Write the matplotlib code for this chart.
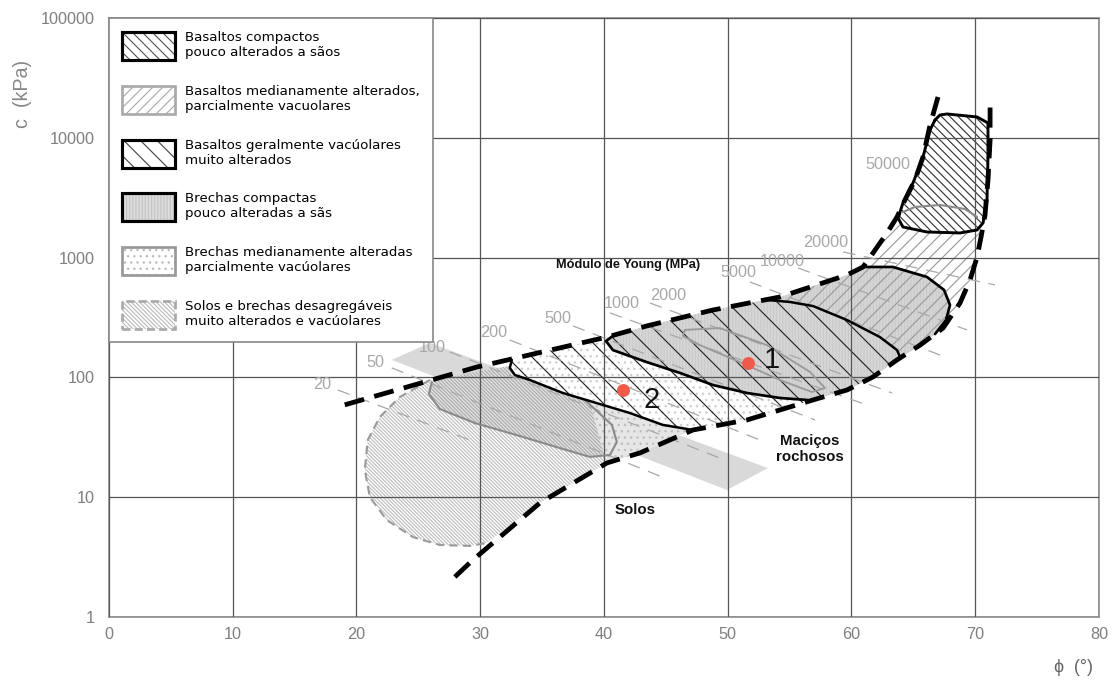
import numpy as np
import matplotlib
matplotlib.use("Agg")
import matplotlib.pyplot as plt
from matplotlib.patches import Polygon, Patch
from matplotlib.legend_handler import HandlerTuple
from matplotlib.ticker import FixedLocator, NullLocator

plt.rcParams['font.family'] = ['Liberation Sans', 'DejaVu Sans']
plt.rcParams['hatch.linewidth'] = 0.55

# eixos: phi (graus) x coesao c (kPa)
xtick_vals = [0, 10, 20, 30, 40, 50, 60, 70, 80]
ytick_vals = [1, 10, 100, 1000, 10000, 100000]
ytick_labels = ['1', '10', '100', '1000', '10000', '100000']

# envoltorias (linhas tracejadas grossas)
upper_phi = [19.05, 29.73, 40.23, 43.47, 48.80, 54.22, 59.64, 60.93, 61.74,
             62.87, 63.68, 64.32, 65.13, 65.78, 66.35, 66.99]
upper_c = [59, 122, 217, 269, 365, 469, 716, 835, 1093,
           1605, 2183, 3026, 4444, 6914, 12790, 21910]
lower_phi = [27.95, 29.40, 34.82, 40.23, 42.90, 47.19, 51.55, 56.89, 59.64,
             61.74, 63.68, 65.54, 67.40, 68.77, 69.58, 70.15, 70.47, 70.79,
             71.03, 71.20, 71.20]
lower_c = [2.16, 2.99, 8.95, 19.3, 23.4, 36.4, 44.1, 64.8, 78.5,
           100.8, 140, 186, 258, 418, 650, 1012, 1486, 2268,
           4444, 9585, 19520]

# faixa cinza de transicao solos / macicos
band_phi = [22.85, 25.93, 53.25, 49.94]
band_c = [140, 194, 17.5, 11.5]

# solos e brechas desagregaveis
soil_phi = [25.93, 23.50, 21.88, 20.91, 20.67, 21.08, 22.45, 24.55, 26.73,
            29.16, 30.53, 34.82, 40.23, 41.69, 39.67, 36.43, 32.39, 29.16]
soil_c = [95.1, 68.6, 46.7, 30.0, 16.9, 10.0, 6.45, 4.65, 3.99,
          3.92, 4.15, 8.95, 19.3, 21.7, 30.0, 44.1, 64.8, 86.4]

# brechas medianamente alteradas
brm_phi = [26.09, 29.16, 32.39, 35.22, 38.46, 40.64, 41.04, 40.48, 38.86,
           36.43, 33.20, 29.56, 26.73, 25.85]
brm_c = [91.5, 109, 124.5, 95.1, 64.8, 40.1, 28.9, 22.5, 21.7,
         25.7, 32.4, 41.6, 54.5, 72.7]
dots_phi = [38.86, 44.76, 47.19, 42.90, 40.23, 39.67]
dots_c = [62.3, 40.1, 36.4, 23.4, 19.3, 30.0]

# basaltos geralmente vacuolares
bgv_phi = [32.55, 34.82, 40.23, 43.47, 48.80, 53.17, 55.03, 56.89, 59.64,
           62.30, 63.68, 63.92, 61.74, 59.64, 56.89, 51.55, 47.19, 44.76,
           42.09, 36.68, 34.01, 32.80, 32.39]
bgv_c = [140, 160, 217, 269, 365, 443, 426, 394, 301,
         217, 169, 148, 100.8, 78.5, 64.8, 44.1, 36.4, 40.1,
         50.4, 74.1, 95.1, 104.7, 120]

# brechas compactas
brc_phi = [40.72, 40.16, 40.72, 43.47, 46.13, 48.80, 51.55, 54.22, 56.40,
           56.89, 59.64, 61.74, 63.68, 65.54, 66.75, 67.64, 67.96, 67.48,
           66.10, 63.34, 60.93, 59.64, 54.22, 48.80, 43.47]
brc_c = [222, 201, 169, 134, 109, 86.4, 74.1, 67.3, 64.8,
         64.8, 78.5, 100.8, 140, 186, 230, 301, 402, 537,
         689, 835, 835, 716, 469, 365, 269]

# basaltos medianamente alterados
bma_phi = [53.17, 54.22, 59.64, 60.93, 61.74, 62.87, 63.68, 64.16, 66.10,
           68.77, 70.23, 70.47, 70.15, 69.58, 68.77, 67.40, 65.54, 63.92,
           63.68, 62.30, 59.64, 56.89, 55.03]
bma_c = [443, 469, 716, 835, 1093, 1605, 2183, 2496, 2696,
         2594, 2312, 1486, 1012, 650, 418, 258, 186, 148,
         169, 217, 301, 394, 426]
oval_phi = [46.54, 49.37, 53.17, 56.65, 57.86, 56.81, 54.22, 50.99, 47.75, 46.37]
oval_c = [249, 258, 186, 111, 81.6, 75.5, 95.1, 134, 186, 222]
arc_phi = [64.16, 65.13, 67.15, 69.17, 70.15]
arc_c = [2402, 2645, 2749, 2545, 2183]

# basaltos compactos (topo)
bc_phi = [66.75, 67.15, 67.72, 70.15, 71.03, 71.03, 70.95, 70.63, 70.15,
          68.77, 66.10, 64.16, 63.76, 64.16, 64.97, 65.78, 66.35]
bc_c = [14080, 15500, 15800, 14920, 13290, 6914, 3026, 1945, 1700,
        1605, 1636, 1800, 2141, 2857, 4195, 6914, 11620]

# modulo de Young (MPa)
mod_labels = ['20', '50', '100', '200', '500', '1000', '2000', '5000',
              '10000', '20000', '50000']
mod_label_phi = [17.19, 21.56, 26.09, 31.10, 36.27, 41.45, 45.16, 50.82,
                 54.38, 57.94, 62.95]
mod_label_c = [86.4, 134, 179, 239, 313, 410, 478, 744, 919, 1324, 5929]
mod_start_phi = [18.49, 22.85, 27.54, 32.39, 37.49, 40.48, 43.71, 51.79, 55.68, 59.32]
mod_start_c = [78.5, 120, 163, 205, 269, 345, 418, 626, 819, 1114]
mod_end_phi = [29.16, 44.52, 49.37, 52.60, 57.05, 61.25, 63.27, 67.56, 69.34, 71.60]
mod_end_c = [30.0, 15.0, 21.2, 30.0, 44.1, 58.8, 74.1, 148, 249, 591]

# pontos ensaiados
pts_name = ['1', '2']
pts_phi = [51.63, 41.53]
pts_c = [132, 78.5]
pts_txt_phi = [53.57, 43.87]
pts_txt_c = [140, 64.8]

legend_labels = ['Basaltos compactos\npouco alterados a sãos',
                 'Basaltos medianamente alterados,\nparcialmente vacuolares',
                 'Basaltos geralmente vacúolares\nmuito alterados',
                 'Brechas compactas\npouco alteradas a sãs',
                 'Brechas medianamente alteradas\nparcialmente vacúolares',
                 'Solos e brechas desagregáveis\nmuito alterados e vacúolares']

fig = plt.figure(figsize=(1112 / 150, 681 / 150), dpi=150)
ax = fig.add_axes([0.098, 0.094, 0.8903, 0.8796])
ax.set_yscale('log')
ax.set_xlim(0, 80)
ax.set_ylim(1, 100000)


def region(phi, c, fc='none', hc='none', hatch=None, z=1.0):
    p = Polygon(np.column_stack([phi, c]), closed=True, facecolor=fc,
                edgecolor=hc, linewidth=0, hatch=hatch, zorder=z)
    ax.add_patch(p)
    return p


def outline(phi, c, color='black', lw=1.2, ls='-', z=3.0):
    ax.plot(phi, c, color=color, lw=lw, ls=ls, zorder=z,
            solid_joinstyle='round', solid_capstyle='round')


# preenchimentos
region(band_phi, band_c, fc='#d9d9d9', z=1.0)
region(soil_phi, soil_c, fc='none', hc='#bdbdbd', hatch='\\' * 14, z=1.1)
region(brm_phi, brm_c, fc='#e2e2e2', hc='#ababab', hatch='\\' * 14, z=1.2)
region(dots_phi, dots_c, fc='#e6e6e6', hc='#bdbdbd', hatch='....', z=1.25)
region(bgv_phi, bgv_c, fc='white', hc='#cdcdcd', hatch='....', z=1.3)
region(brc_phi, brc_c, fc='#d6d6d6', hc='#cacaca', hatch='|' * 8, z=1.4)
region(bgv_phi, bgv_c, fc='none', hc='#222222', hatch='\\\\', z=1.5)
region(bma_phi, bma_c, fc='none', hc='#9a9a9a', hatch='////', z=1.6)
region(bc_phi, bc_c, fc='white', hc='#333333', hatch='\\' * 6, z=1.7)

# contornos
outline(soil_phi[:11], soil_c[:11], color='#9a9a9a', lw=1.0, ls=(0, (4, 2.5)))
outline(brm_phi[4:] + brm_phi[:1], brm_c[4:] + brm_c[:1], color='#8a8a8a', lw=1.0)
outline(oval_phi + oval_phi[:1], oval_c + oval_c[:1], color='#9a9a9a', lw=0.9)
outline(arc_phi, arc_c, color='#8a8a8a', lw=1.0)
outline(bgv_phi[5:12], bgv_c[5:12], color='black', lw=1.2, z=3.2)
outline(bgv_phi[16:] + bgv_phi[:1], bgv_c[16:] + bgv_c[:1], color='black', lw=1.2, z=3.2)
outline(brc_phi[:9], brc_c[:9], color='black', lw=1.3, z=3.2)
outline(brc_phi[14:21], brc_c[14:21], color='black', lw=1.3, z=3.2)
outline(bc_phi + bc_phi[:1], bc_c + bc_c[:1], color='black', lw=1.4, z=3.2)

# linhas de modulo de Young
for i, lab in enumerate(mod_labels):
    ax.text(mod_label_phi[i], mod_label_c[i], lab, fontsize=7.8, color='#a8a8a8',
            ha='center', va='center', zorder=5)
    if i < len(mod_start_phi):
        ax.plot([mod_start_phi[i], mod_end_phi[i]], [mod_start_c[i], mod_end_c[i]],
                color='#a8a8a8', lw=0.6, ls=(0, (10, 7)), zorder=2.6)

# envoltorias
ax.plot(upper_phi, upper_c, color='black', lw=2.3, ls=(0, (4.2, 2.2)), zorder=4)
ax.plot(lower_phi, lower_c, color='black', lw=2.3, ls=(0, (4.2, 2.2)), zorder=4)

# pontos
ax.plot(pts_phi, pts_c, 'o', color='#f05a4a', ms=6.2, mec='none', zorder=6)
for i, name in enumerate(pts_name):
    ax.text(pts_txt_phi[i], pts_txt_c[i], name, fontsize=14, color='#111111',
            ha='center', va='center', zorder=6)

ax.text(41.93, 868, 'Módulo de Young (MPa)', fontsize=6.1, weight='bold',
        ha='center', va='center', color='#111111', zorder=5)
ax.text(56.65, 25.3, 'Maciços\nrochosos', fontsize=7.2, weight='bold',
        ha='center', va='center', color='#111111', linespacing=1.15, zorder=5)
ax.text(42.52, 7.82, 'Solos', fontsize=7.2, weight='bold',
        ha='center', va='center', color='#111111', zorder=5)

# grade e eixos
ax.xaxis.set_major_locator(FixedLocator(xtick_vals))
ax.set_xticklabels([str(v) for v in xtick_vals])
ax.yaxis.set_major_locator(FixedLocator(ytick_vals))
ax.yaxis.set_minor_locator(NullLocator())
ax.set_yticklabels(ytick_labels)
ax.set_axisbelow(False)
ax.grid(True, which='major', color='#555555', lw=0.6)
ax.tick_params(length=0, labelcolor='#7f7f7f', labelsize=7.8)
ax.tick_params(axis='y', pad=7)
ax.tick_params(axis='x', pad=5)
for s in ax.spines.values():
    s.set_color('#999999')
    s.set_linewidth(0.9)

fig.text(22 / 1112, 1 - 94 / 681, 'c  (kPa)', rotation=90, fontsize=9.5,
         color='#888888', ha='center', va='center')
fig.text(1073 / 1112, 1 - 668 / 681, 'ϕ  (°)', fontsize=8.5,
         color='#666666', ha='center', va='center')

# legenda
handles = [
    (Patch(fc='white', ec='#555555', hatch='\\' * 5, lw=0), Patch(fc='none', ec='black', lw=1.5)),
    (Patch(fc='white', ec='#aaaaaa', hatch='/' * 5, lw=0), Patch(fc='none', ec='#aaaaaa', lw=1.3)),
    (Patch(fc='white', ec='#444444', hatch='\\\\\\', lw=0), Patch(fc='none', ec='black', lw=1.5)),
    (Patch(fc='#dcdcdc', ec='#c4c4c4', hatch='|' * 8, lw=0), Patch(fc='none', ec='black', lw=1.5)),
    (Patch(fc='white', ec='#bbbbbb', hatch='....', lw=0), Patch(fc='none', ec='#999999', lw=1.3)),
    (Patch(fc='white', ec='#bbbbbb', hatch='\\' * 12, lw=0),
     Patch(fc='none', ec='#aaaaaa', lw=1.3, ls=(0, (3, 1.5)))),
]
leg = ax.legend(handles, legend_labels, handler_map={tuple: HandlerTuple(ndivide=1, pad=0)},
                loc='upper left', bbox_to_anchor=(0, 1), borderaxespad=0,
                prop={'family': 'DejaVu Sans', 'size': 6.4},
                handlelength=3.95, handleheight=2.85, labelspacing=1.85,
                borderpad=1.0, handletextpad=0.75, fancybox=False,
                edgecolor='#888888', framealpha=1)
leg.get_frame().set_linewidth(0.8)
leg.set_zorder(7)

fig.savefig('out.png', dpi=150)
